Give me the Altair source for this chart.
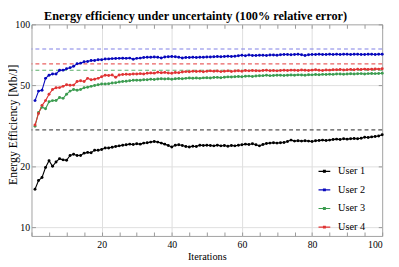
import altair as alt
import pandas as pd

iterations = list(range(1, 101))

users = ["User 1", "User 2", "User 3", "User 4"]
line_colors = ["#000000", "#0808bc", "#3c9c50", "#e03434"]
dash_colors = ["#555555", "#8080e6", "#5aae6a", "#ea6262"]
bound_values = [30.2, 75.6, 59.4, 63.9]

user1 = [15.4, 17.0, 17.6, 19.7, 21.3, 20.0, 21.0, 21.8, 21.5, 21.4,
         22.6, 22.9, 22.6, 22.6, 23.2, 23.4, 23.3, 24.0, 24.0, 24.2,
         24.6, 24.6, 24.8, 25.0, 25.2, 25.4, 25.5, 25.7, 25.6, 25.8,
         25.7, 26.0, 26.1, 26.3, 26.5, 26.3, 26.0, 25.7, 25.3, 24.9,
         25.4, 25.5, 25.3, 25.0, 24.9, 25.1, 25.0, 25.4, 25.3, 25.4,
         25.3, 25.2, 25.4, 25.2, 25.3, 25.1, 25.3, 25.2, 25.4, 25.5,
         25.7, 25.6, 25.8, 25.5, 25.2, 25.6, 25.9, 26.0, 26.1, 26.0,
         26.1, 26.2, 26.5, 26.9, 26.6, 26.7, 26.6, 26.7, 26.6, 26.5,
         26.7, 26.8, 26.9, 26.8, 26.9, 27.1, 27.2, 27.1, 27.3, 27.2,
         27.3, 27.4, 27.3, 27.5, 27.8, 27.7, 27.9, 28.0, 28.2, 28.6]

user2 = [42.1, 46.9, 47.4, 54.2, 56.2, 56.9, 57.0, 59.4, 59.5, 60.5,
         61.2, 62.2, 63.9, 64.4, 65.5, 65.6, 66.3, 66.4, 67.0, 67.0,
         67.5, 67.6, 67.8, 67.9, 68.0, 68.1, 68.0, 68.2, 67.3, 68.0,
         68.2, 68.6, 68.8, 68.9, 69.0, 68.8, 68.3, 69.1, 69.3, 69.4,
         69.2, 68.9, 68.3, 68.6, 68.7, 68.8, 68.7, 68.9, 68.8, 69.0,
         69.1, 69.3, 69.4, 69.2, 69.5, 69.6, 69.4, 69.7, 70.0, 70.4,
         70.1, 70.6, 70.3, 70.2, 70.5, 70.4, 70.3, 70.6, 70.7, 70.5,
         70.9, 71.0, 71.1, 70.9, 71.0, 71.2, 70.8, 70.3, 70.9, 71.1,
         71.0, 71.2, 71.0, 71.1, 71.3, 71.1, 71.2, 71.0, 71.3, 71.2,
         71.1, 71.3, 71.2, 71.0, 71.1, 71.3, 71.2, 71.1, 71.2, 71.3]

user3 = [31.5, 36.8, 39.1, 38.4, 41.6, 42.1, 42.2, 43.6, 43.2, 45.3,
         46.9, 47.8, 47.4, 47.8, 48.7, 49.0, 49.5, 50.0, 50.4, 50.8,
         50.8, 51.0, 51.4, 51.6, 52.0, 52.3, 52.5, 52.7, 53.0, 53.1,
         53.0, 53.3, 53.4, 53.6, 53.5, 53.8, 54.0, 53.8, 53.9, 53.7,
         53.9, 54.1, 54.0, 54.2, 54.4, 54.3, 54.4, 54.2, 54.5, 54.6,
         54.4, 54.7, 54.8, 54.6, 54.9, 55.1, 55.0, 55.2, 55.4, 55.2,
         55.5, 55.6, 55.4, 55.7, 55.8, 55.9, 56.1, 55.9, 56.0, 56.2,
         56.1, 56.0, 56.2, 56.3, 56.2, 56.4, 56.3, 56.2, 56.5, 56.4,
         56.6, 56.5, 56.7, 56.6, 56.8, 56.7, 56.9, 57.0, 56.8, 57.0,
         57.1, 56.9, 57.1, 57.2, 57.0, 57.2, 57.3, 57.2, 57.3, 57.4]

user4 = [31.9, 36.4, 39.9, 42.1, 45.3, 47.8, 48.7, 48.8, 49.5, 50.4,
         50.1, 50.2, 52.3, 52.7, 52.3, 54.2, 53.3, 53.7, 54.2, 55.2,
         56.2, 56.0, 56.3, 54.9, 56.3, 56.6, 56.8, 56.7, 57.0, 56.9,
         57.2, 57.0, 57.4, 57.6, 57.5, 58.1, 57.7, 58.0, 57.6, 57.4,
         57.9, 57.8, 58.2, 58.5, 58.4, 58.7, 58.6, 58.8, 58.4, 58.7,
         59.0, 58.8, 58.9, 58.5, 58.7, 59.0, 58.6, 58.9, 59.1, 58.8,
         59.2, 59.0, 59.3, 59.1, 59.0, 59.2, 59.4, 59.1, 59.2, 59.0,
         59.3, 59.4, 59.2, 59.5, 59.4, 59.3, 59.6, 59.4, 59.2, 59.5,
         59.7, 59.4, 59.3, 59.6, 59.5, 59.8, 59.7, 59.9, 59.6, 59.8,
         60.0, 59.8, 60.1, 59.9, 60.2, 60.0, 60.1, 60.3, 60.2, 60.4]

x_ticks = list(range(0, 101, 5))
y_ticks = [10, 20, 50, 100]

series = [user1, user2, user3, user4]
rows = []
for u, vals in zip(users, series):
    for it, v in zip(iterations, vals):
        rows.append({"iteration": it, "value": v, "user": u})
df = pd.DataFrame(rows)
bounds = pd.DataFrame({"user": users, "value": bound_values})

FONT = "Liberation Serif, Times New Roman, DejaVu Serif, serif"

x_scale = alt.Scale(domain=[0, 100], nice=False, zero=False)
y_scale = alt.Scale(type="log", domain=[9.07, 100], nice=False)

x_axis = alt.Axis(
    title="Iterations",
    values=x_ticks,
    labelExpr="datum.value % 20 === 0 && datum.value > 0 ? datum.label : ''",
    labelOverlap=False, labelFont=FONT, labelFontSize=10, labelColor="#000000",
    offset=-4, tickSize=4, labelPadding=4, domain=False,
    grid=True,
    gridOpacity={"condition": {"test": "datum.value % 20 === 0 && datum.value > 0 && datum.value < 100", "value": 1}, "value": 0},
    titlePadding=2, titleFont=FONT, titleFontSize=10.5, titleFontWeight="normal",
    titleColor="#000000",
)
y_axis = alt.Axis(
    title="Energy Efficiency  [Mb/J]",
    values=y_ticks,
    format="d", labelFont=FONT, labelFontSize=10, labelColor="#000000",
    offset=-4, tickSize=4, labelPadding=2, domain=False,
    grid=True,
    gridOpacity={"condition": {"test": "datum.value < 100", "value": 1}, "value": 0},
    titleX=-16.5, titleY=102, titleFont=FONT, titleFontSize=12, titleFontWeight="normal",
    titleColor="#000000",
)
x_axis_top = alt.Axis(
    orient="top", values=x_ticks, labels=False, title=None,
    offset=-4, tickSize=4, domain=False, grid=False,
)
y_axis_right = alt.Axis(
    orient="right", values=y_ticks, labels=False, title=None,
    offset=-4, tickSize=4, domain=False, grid=False,
)

legend = alt.Legend(
    orient="none", legendX=292, legendY=143, title=None,
    symbolType="M-1,0H1M-0.15,-0.15H0.15V0.15H-0.15Z",
    symbolSize=144, symbolStrokeWidth=1.2,
    rowPadding=6, labelOffset=7, padding=0,
    labelFont=FONT, labelFontSize=10.5, labelColor="#000000",
)

color = alt.Color("user:N", scale=alt.Scale(domain=users, range=line_colors), legend=legend)

rule_layers = []
for u, c in zip(users, dash_colors):
    rule_layers.append(
        alt.Chart(bounds).transform_filter(alt.datum.user == u)
        .mark_rule(strokeDash=[4, 3], strokeWidth=1.1, color=c)
        .encode(y=alt.Y("value:Q", scale=y_scale, axis=None))
    )

lines = alt.Chart(df).mark_line(strokeWidth=1.1).encode(
    x=alt.X("iteration:Q", scale=x_scale, axis=x_axis),
    y=alt.Y("value:Q", scale=y_scale, axis=y_axis),
    color=color,
)

points = alt.Chart(df).mark_point(filled=True, size=9, opacity=1, shape="circle").encode(
    x=alt.X("iteration:Q", scale=x_scale, axis=x_axis_top),
    y=alt.Y("value:Q", scale=y_scale, axis=y_axis_right),
    color=color,
)

chart = alt.layer(*rule_layers, lines, points).resolve_axis(
    x="independent", y="independent"
).properties(
    width=358, height=216,
    title=alt.TitleParams(
        "Energy efficiency under uncertainty (100% relative error)",
        font=FONT, fontSize=12.5, fontWeight="bold", anchor="middle",
        frame="group", dx=-11.5, offset=-3.5, color="#000000",
    ),
    autosize=alt.AutoSizeParams(type="none"),
    padding={"left": 24, "top": 14, "right": 9, "bottom": 29},
).configure_view(
    stroke="#a0a0a0", strokeWidth=1,
).configure_axis(
    tickColor="#999999", gridColor="#dedede", gridWidth=1,
)

chart.save("out.html", embed_options={"renderer": "svg", "actions": False})
